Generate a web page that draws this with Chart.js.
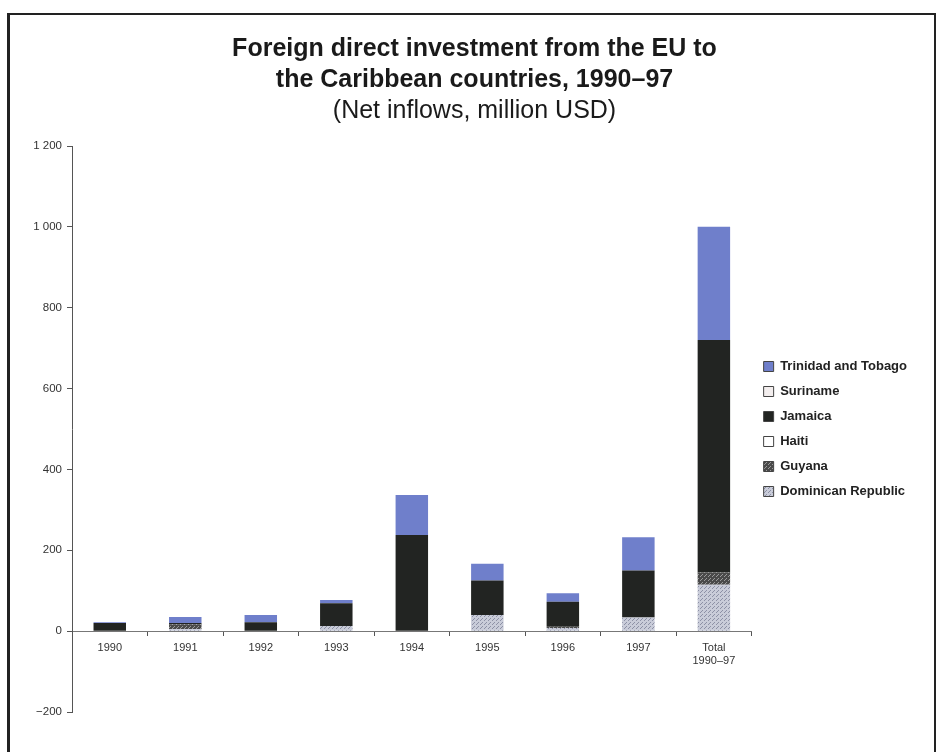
<!DOCTYPE html>
<html>
<head>
<meta charset="utf-8">
<script src="https://cdn.jsdelivr.net/npm/chart.js@4/dist/chart.umd.min.js"></script>
<style>
  body { margin: 0; background: #fff; }
  #wrap { position: relative; width: 938px; height: 752px; overflow: hidden; }
  #frame { position: absolute; left: 7px; top: 13px; width: 924px; height: 780px; border: 2px solid #222; border-left-width: 3px; }
  canvas { position: absolute; left: 0; top: 0; }
</style>
</head>
<body>
<div id="wrap">
  <div id="frame"></div>
  <canvas id="chart" width="938" height="752"></canvas>
</div>
<script>
// net inflows, million USD, one entry per column
var years = ['1990', '1991', '1992', '1993', '1994', '1995', '1996', '1997', ['Total', '1990–97']];
var dominican = [0, 5, 0, 13, 0, 40, 8, 34, 115];
var guyana = [0, 12, 0, 0, 0, 0, 3, 0, 30];
var haiti = [0, 0, 0, 0, 0, 0, 0, 0, 0];
var jamaica = [20, 3, 22, 56, 238, 85, 62, 116, 575];
var suriname = [0, 0, 0, 0, 0, 0, 0, 0, 0];
var trinidad = [2, 15, 18, 8, 99, 42, 21, 82, 280];
var yTicks = [-200, 0, 200, 400, 600, 800, 1000, 1200];

const fontFamily = 'Arial, "Liberation Sans", sans-serif';

function makePattern(bg, fg) {
    const c = document.createElement('canvas');
    c.width = 4;
    c.height = 4;
    const g = c.getContext('2d');
    g.fillStyle = bg;
    g.fillRect(0, 0, 4, 4);
    g.fillStyle = fg;
    g.fillRect(0, 0, 1, 1);
    g.fillRect(2, 2, 1, 1);
    g.fillRect(1, 3, 1, 1);
    return g.createPattern(c, 'repeat');
}

const dominicanFill = makePattern('#c9ccd9', '#8d91a6');
const guyanaFill = makePattern('#4a4a4a', '#9a9a9a');

function formatTick(v) {
    if (v < 0) return '\u2212' + formatTick(-v);
    if (v >= 1000) return Math.floor(v / 1000) + ' ' + String(v % 1000).padStart(3, '0');
    return String(v);
}

const datasets = [
    { label: 'Dominican Republic', data: dominican, backgroundColor: dominicanFill },
    { label: 'Guyana', data: guyana, backgroundColor: guyanaFill },
    { label: 'Haiti', data: haiti, backgroundColor: '#ffffff' },
    { label: 'Jamaica', data: jamaica, backgroundColor: '#222422' },
    { label: 'Suriname', data: suriname, backgroundColor: '#f3eeee' },
    { label: 'Trinidad and Tobago', data: trinidad, backgroundColor: '#6f7fcb' }
];

datasets.forEach(ds => {
    ds.borderWidth = 0;
    ds.barPercentage = 0.5;
    ds.categoryPercentage = 0.86;
});

const chart = new Chart('chart', {
    type: 'bar',
    data: {
        labels: years,
        datasets: datasets
    },
    options: {
        responsive: false,
        animation: false,
        layout: {
            padding: { top: 24, left: 32, right: 21, bottom: 40 }
        },
        plugins: {
            title: {
                display: true,
                text: ['Foreign direct investment from the EU to', 'the Caribbean countries, 1990–97'],
                color: '#1a1a1a',
                font: { family: fontFamily, size: 25, weight: 'bold', lineHeight: 1.24 },
                padding: { top: 10, bottom: 0 }
            },
            subtitle: {
                display: true,
                text: '(Net inflows, million USD)',
                color: '#1a1a1a',
                font: { family: fontFamily, size: 25, weight: 'normal', lineHeight: 1.16 },
                padding: { top: 1, bottom: 20 }
            },
            legend: {
                position: 'right',
                align: 'center',
                reverse: true,
                fullSize: false,
                labels: {
                    boxWidth: 10,
                    boxHeight: 10,
                    padding: 12,
                    color: '#222',
                    font: { family: fontFamily, size: 13, weight: 'bold' },
                    generateLabels: (c) => {
                        const items = Chart.defaults.plugins.legend.labels.generateLabels(c);
                        items.forEach(it => {
                            it.lineWidth = 1;
                            it.strokeStyle = '#444';
                        });
                        return items;
                    }
                }
            },
            tooltip: { enabled: false }
        },
        scales: {
            x: {
                stacked: true,
                position: { y: 0 },
                grid: {
                    display: true,
                    drawOnChartArea: false,
                    drawTicks: true,
                    tickLength: 4,
                    color: '#555'
                },
                border: { display: true, color: '#777', width: 1 },
                ticks: {
                    color: '#333',
                    padding: 6,
                    maxRotation: 0,
                    font: { family: fontFamily, size: 11 }
                }
            },
            y: {
                stacked: true,
                min: -200,
                max: 1200,
                afterBuildTicks: (scale) => {
                    scale.ticks = yTicks.map(v => ({ value: v }));
                },
                afterFit: (scale) => {
                    scale.width = 40;
                },
                grid: {
                    display: true,
                    drawOnChartArea: false,
                    drawTicks: true,
                    tickLength: 5,
                    color: '#555'
                },
                border: { display: true, color: '#555', width: 1 },
                ticks: {
                    color: '#333',
                    padding: 5,
                    font: { family: fontFamily, size: 11.5 },
                    callback: (v) => formatTick(v)
                }
            }
        }
    }
});
</script>
</body>
</html>
